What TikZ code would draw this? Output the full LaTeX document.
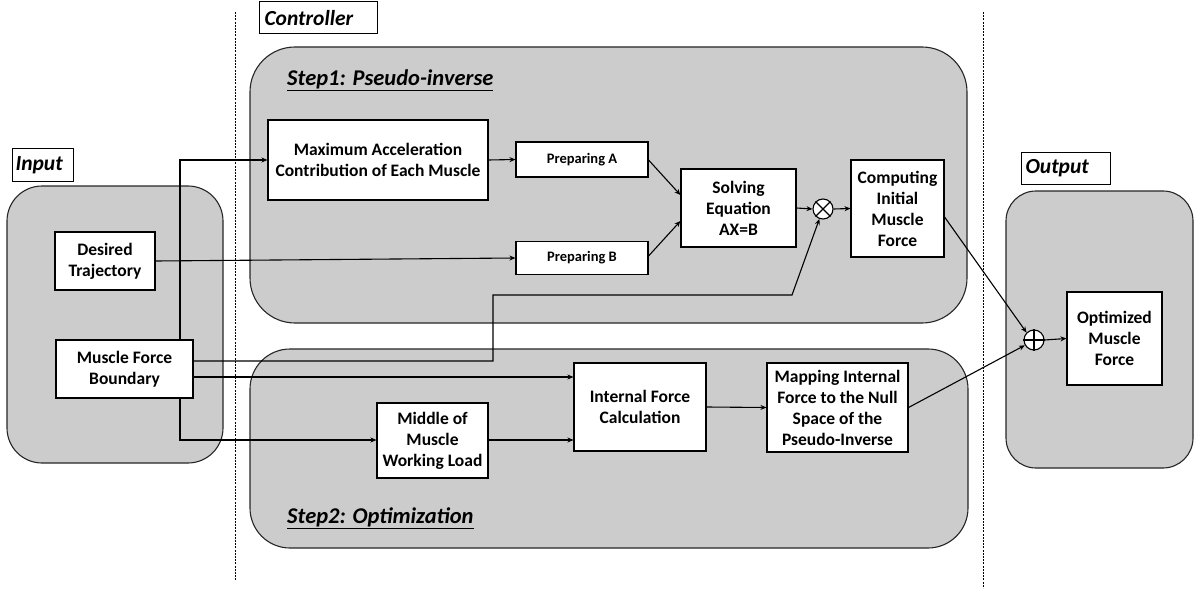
\documentclass[tikz,border=0pt]{standalone}
\usepackage{fontspec}
\setmainfont{Carlito}
\usetikzlibrary{arrows.meta,calc}
\begin{document}
\begin{tikzpicture}[x=1pt,y=-1pt,
  grp/.style={draw=black!85,fill=black!20,line width=1.1pt},
  blk/.style={draw=black,fill=white,line width=1.1pt,align=center,inner sep=1pt,
     font=\bfseries\fontsize{17.5}{21}\selectfont},
  sblk/.style={blk,font=\bfseries\fontsize{14.5}{17}\selectfont},
  lbl/.style={draw=black,fill=white,line width=1.1pt,anchor=north west,inner sep=0pt,
     font=\bfseries\itshape\fontsize{21.5}{24}\selectfont},
  ttl/.style={anchor=west,inner sep=0pt,font=\bfseries\itshape\fontsize{22.5}{26}\selectfont},
  arr/.style={draw=black,line width=1.1pt,-{Stealth[length=6pt,width=5pt]}},
  ln/.style={draw=black,line width=1.1pt},
  sep/.style={draw=black,line width=0.8pt,dash pattern=on 2pt off 1.2pt},
  circ/.style={circle,draw=black,fill=white,line width=1.1pt,minimum size=20pt,inner sep=0pt}
]
\useasboundingbox (0,0) rectangle (1194,591);
% separators
\draw[sep] (235,12) -- (235,580);
\draw[sep] (983,12) -- (983,588);
% group boxes
\draw[grp,rounded corners=35pt] (7,186) rectangle (223,463);
\draw[grp,rounded corners=45pt] (250,47) rectangle (967,323);
\draw[grp,rounded corners=40pt] (250,349) rectangle (968,548);
\draw[grp,rounded corners=30pt] (1006,191) rectangle (1193,468);
% labels
\node[lbl,minimum width=118pt,minimum height=32pt,text width=114pt] (lc) at (259,1) {\hspace*{3pt}Controller};
\node[lbl,minimum width=61pt,minimum height=33pt,text width=59pt] (li) at (12,148) {\hspace*{2pt}Input};
\node[lbl,minimum width=89pt,minimum height=32pt,text width=87pt] (lo) at (1021,152) {\hspace*{3pt}Output};
\node[ttl] (t1) at (287,80) {\underline{Step1: Pseudo-inverse}};
\node[ttl] (t2) at (287,518) {\underline{Step2: Optimization}};
% blocks
\node[blk,minimum width=100pt,minimum height=58pt] (DT) at (105,261) {Desired\\Trajectory};
\node[blk,minimum width=137pt,minimum height=58pt] (MFB) at (124.5,369) {Muscle Force\\Boundary};
\node[blk,minimum width=220pt,minimum height=80pt] (MA) at (378,160) {Maximum Acceleration\\Contribution of Each Muscle};
\node[sblk,minimum width=132pt,minimum height=35pt] (PA) at (582,159.5) {Preparing A};
\node[sblk,minimum width=132pt,minimum height=33pt] (PB) at (582,258) {Preparing B};
\node[blk,minimum width=115pt,minimum height=78pt] (SE) at (738.5,208) {Solving\\Equation\\AX=B};
\node[circ] (CX) at (823,209) {};
\draw[ln] (CX.45) -- (CX.225) (CX.135) -- (CX.315);
\node[blk,minimum width=93pt,minimum height=97pt] (CI) at (897.5,208.5) {Computing\\Initial\\Muscle\\Force};
\node[blk,minimum width=95pt,minimum height=93pt] (OM) at (1114.5,338.5) {Optimized\\Muscle\\Force};
\node[circ] (CP) at (1034,340) {};
\draw[ln] (CP.north) -- (CP.south) (CP.west) -- (CP.east);
\node[blk,minimum width=111pt,minimum height=75pt] (MM) at (432.5,440.5) {Middle of\\Muscle\\Working Load};
\node[blk,minimum width=132pt,minimum height=88pt] (IF) at (640,407) {Internal Force\\Calculation};
\node[blk,minimum width=141pt,minimum height=89pt] (MP) at (837.5,407.5) {Mapping Internal\\Force to the Null\\Space of the\\Pseudo-Inverse};
% helper coordinates
\coordinate (vx) at (180,0);
\coordinate (y1) at (0,361);
\coordinate (y2) at (0,377);
\coordinate (y3) at (0,440);
\coordinate (k1) at (493,295);
\coordinate (k2) at (792,295);
% connectors
\draw[arr] (MFB.north -| vx) |- (MA.west);
\draw[arr] (DT.east) -- (PB.west);
\draw[arr] (MA.east) -- (PA.west);
\draw[arr] ($(PA.east)+(0,0.5)$) -- ($(SE.west)+(0,-13)$);
\draw[arr] ($(PB.east)+(0,-2)$) -- ($(SE.west)+(0,13)$);
\draw[arr] (SE.east) -- (CX.west);
\draw[arr] (CX.east) -- (CI.west);
\draw[arr] (MFB.east |- y1) -| (k1) -- (k2) -- (CX.250);
\draw[arr] (MFB.east |- y2) -- (IF.west |- y2);
\draw[arr] (MFB.south -| vx) |- (MM.west |- y3);
\draw[arr] (MM.east |- y3) -- (IF.west |- y3);
\draw[arr] (IF.east) -- (MP.west);
\draw[arr] (MP.east) -- (CP.210);
\draw[arr] ($(CI.east)+(0,8.5)$) -- (CP.135);
\draw[arr] (CP.east) -- (OM.west);
\end{tikzpicture}
\end{document}
